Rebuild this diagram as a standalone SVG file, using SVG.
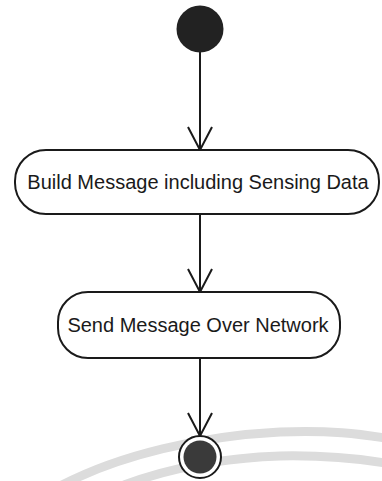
<svg xmlns="http://www.w3.org/2000/svg" width="382" height="481" viewBox="0 0 382 481">
  <style>
    .action { fill: #ffffff; stroke: #1a1a1a; stroke-width: 2; }
    .label { font-family: "Liberation Sans", Arial, sans-serif; font-size: 20px; fill: #1a1a1a; text-anchor: middle; }
    .flow { fill: none; stroke: #1a1a1a; stroke-width: 2; }
    .band { fill: none; stroke: #dcdcdc; stroke-width: 9; }
  </style>
  <defs>
    <!-- open V arrowhead, drawn pointing along +x so orient="auto" turns it with the line -->
    <marker id="open-arrow" viewBox="0 0 26 28" refX="24" refY="14" markerWidth="26" markerHeight="28" markerUnits="userSpaceOnUse" orient="auto">
      <path d="M1 2 L24 14 L1 26" fill="none" stroke="#1a1a1a" stroke-width="2"/>
    </marker>
  </defs>

  <rect width="382" height="481" fill="#ffffff"/>

  <!-- faint background bands -->
  <g id="background">
    <path class="band" d="M62 485 C120 455 200 436 280 432 C330 430 360 434 385 438"/>
    <path class="band" d="M124 485 C170 468 220 458 280 456 C330 455 360 459 385 463"/>
  </g>

  <!-- connectors -->
  <g id="connectors">
    <line class="flow" x1="200" y1="52" x2="200" y2="150" marker-end="url(#open-arrow)"/>
    <line class="flow" x1="200" y1="214" x2="200" y2="292" marker-end="url(#open-arrow)"/>
    <line class="flow" x1="200" y1="358" x2="200" y2="436" marker-end="url(#open-arrow)"/>
  </g>

  <g id="start">
    <circle cx="200" cy="29" r="23.5" fill="#222222"/>
  </g>

  <g id="build-message">
    <rect class="action" x="15" y="150" width="364" height="64" rx="31" ry="31"/>
    <text class="label" x="198" y="189">Build Message including Sensing Data</text>
  </g>

  <g id="send-message">
    <rect class="action" x="58" y="292" width="282" height="66" rx="30" ry="30"/>
    <text class="label" x="198" y="332">Send Message Over Network</text>
  </g>

  <g id="end">
    <circle cx="200" cy="457" r="21" fill="#ffffff" stroke="#1a1a1a" stroke-width="2"/>
    <circle cx="200" cy="457" r="16.5" fill="#3a3a3a"/>
  </g>
</svg>
